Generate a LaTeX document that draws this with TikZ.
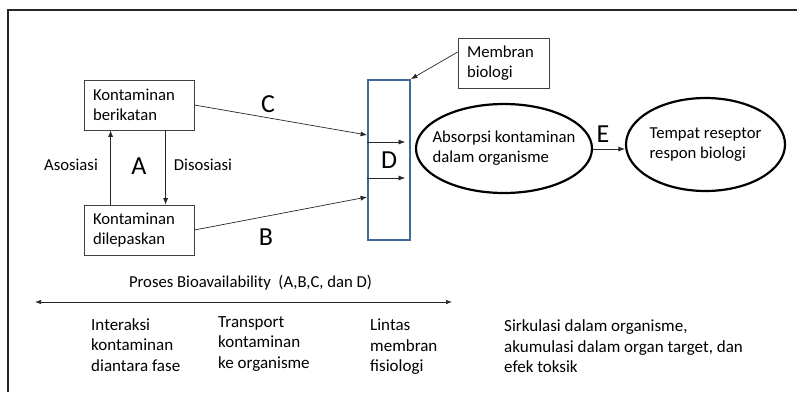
\documentclass[tikz,border=0pt]{standalone}
\usepackage{fontspec}
\setmainfont{Carlito}
\usetikzlibrary{shapes.geometric,arrows.meta}
\definecolor{membranblue}{RGB}{65,105,155}
\begin{document}
\begin{tikzpicture}[x=1pt,y=-1pt,
  every node/.style={font=\fontsize{16.7}{20}\selectfont, inner sep=0pt},
  tip/.style={-{Latex[length=6.5pt,width=5pt]}},
  boxnode/.style={draw=black!75, line width=0.8pt, minimum height=50pt,
    text width=#1, align=left, inner xsep=9pt},
  bignode/.style={ellipse, draw, line width=2.2pt},
  letter/.style={font=\fontsize{26}{30}\selectfont},
  notes/.style={anchor=west, align=left, font=\fontsize{17}{20.5}\selectfont},
  conn/.style={tip, line width=0.7pt, draw=black!85}]
\useasboundingbox (0,0) rectangle (797,392);

% outer frame (open at right and bottom)
\draw[line width=1.4pt, black!85] (8,392) -- (8,10) -- (797,10);

% contaminant states
\node[boxnode=92pt] (ber) at (139,105) {Kontaminan\\berikatan};
\node[boxnode=92pt] (lep) at (139,230) {Kontaminan\\dilepaskan};

% association / dissociation
\draw[conn] (lep.south west |- lep.north) ++(27,0) coordinate (asoS) -- (asoS |- ber.south);
\draw[conn] (ber.south west) ++(82,0) coordinate (disS) -- (disS |- lep.north);
\node (aso) at (71,165) {Asosiasi};
\node (dis) at (203,165) {Disosiasi};
\node[letter] (la) at (139,166) {A};

% biological membrane
\node[draw=membranblue, line width=1.8pt, minimum width=42pt, minimum height=160pt] (mem) at (389,160) {};
\node[letter] (ld) at (389,160) {D};
\node[boxnode=73pt] (mlab) at (503.5,63) {Membran\\biologi};
\draw[conn] (mlab.west |- 0,52) coordinate (mS) -- (mem.north east);

% transport to the membrane
\draw[conn] (ber.east) -- (mem.west |- 0,135);
\draw[conn] (lep.east) -- (mem.west |- 0,197);
\node[letter] (lc) at (268,104) {C};
\node[letter] (lb) at (266,237) {B};

% passage through the membrane
\draw[conn] (mem.west |- 0,142) coordinate (p1) -- ++(38,0);
\draw[conn] (mem.west |- 0,178) coordinate (p2) -- ++(38,0);

% inside the organism
\node[bignode, minimum width=176pt, minimum height=89pt] (abs) at (504,148.5) {};
\node[align=left] (abst) at (abs.center) {Absorpsi kontaminan\\dalam organisme};
\node[bignode, minimum width=159pt, minimum height=93pt] (res) at (705.5,144.5) {};
\node[align=left] (rest) at (res.center) {Tempat reseptor\\respon biologi};
\draw[conn] (abs.east |- 0,149) -- (res.west |- 0,149);
\node[letter] (le) at (603,134) {E};

% bioavailability scale
\node (proc) at (250.5,283) {Proses Bioavailability \ (A,B,C, dan D)};
\coordinate (scl) at (35,302);
\coordinate (scr) at (452,302);
\draw[{Latex[length=6pt,width=4.5pt]}-{Latex[length=6pt,width=4.5pt]}, line width=0.7pt, black!85] (scl) -- (scr);

\node[notes] (n1) at (91,345) {Interaksi\\kontaminan\\diantara fase};
\node[notes] (n2) at (218,343.5) {Transport\\kontaminan\\ke organisme};
\node[notes] (n3) at (370,347) {Lintas\\membran\\fisiologi};
\node[notes] (n4) at (504,346.5) {Sirkulasi dalam organisme,\\akumulasi dalam organ target, dan\\efek toksik};
\end{tikzpicture}
\end{document}
